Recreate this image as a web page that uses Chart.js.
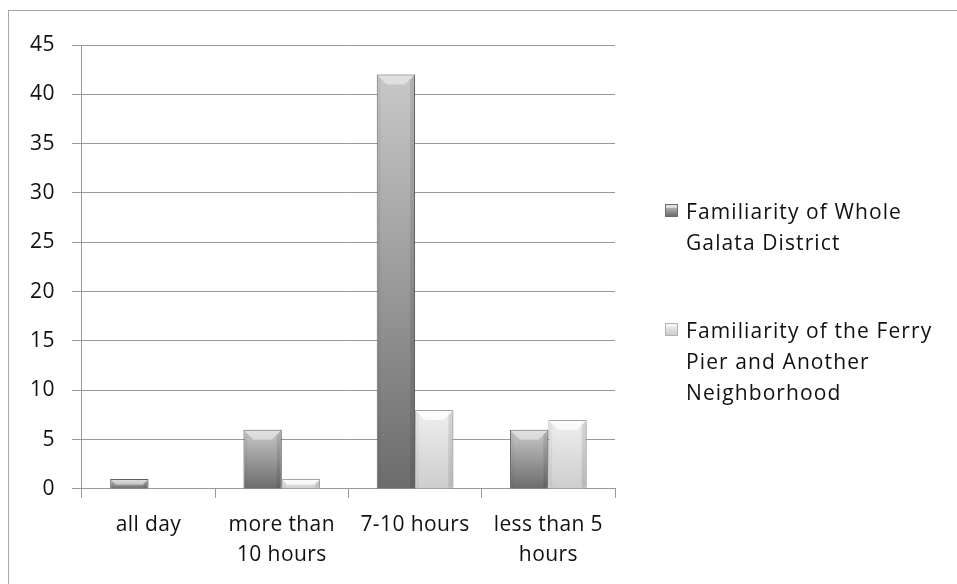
<!DOCTYPE html>
<html>
<head>
<meta charset="utf-8">
<script src="https://cdn.jsdelivr.net/npm/chart.js@4.4.1/dist/chart.umd.min.js"></script>
<style>
  html, body { margin: 0; padding: 0; background: #ffffff; }
  body { width: 957px; height: 584px; position: relative; overflow: hidden; font-family: "Open Sans", sans-serif; }
  #frame { position: absolute; left: 8px; top: 10px; width: 980px; height: 620px; border: 1px solid #a8a8a8; box-sizing: border-box; }
  #wrap { position: absolute; left: 0; top: 0; width: 957px; height: 584px; }
  #legend { position: absolute; left: 665px; top: 196px; color: #111111; font-size: 21px; letter-spacing: 1.1px; line-height: 31px; white-space: nowrap; }
  .item { position: relative; padding-left: 21px; }
  .item + .item { margin-top: 57px; }
  .swatch { position: absolute; left: 0; top: 8px; width: 13px; height: 13px; box-sizing: border-box; }
</style>
</head>
<body>
<div id="frame"></div>
<div id="wrap"><canvas id="chart" width="957" height="584"></canvas></div>
<div id="legend"></div>
<script>
// Hours of stay, counted per familiarity group
const categories = ["all day", ["more than", "10 hours"], "7-10 hours", ["less than 5", "hours"]];
const seriesNames = ["Familiarity of Whole Galata District", "Familiarity of the Ferry Pier and Another Neighborhood"];
const legendLines = [["Familiarity of Whole", "Galata District"], ["Familiarity of the Ferry", "Pier and Another", "Neighborhood"]];
const wholeDistrict = [1, 6, 42, 6];
const ferryPier = [0, 1, 8, 7];
const yTicks = [0, 5, 10, 15, 20, 25, 30, 35, 40, 45];

const shades = [
  { top: "#c8c8c8", bottom: "#6c6c6c", edge: "#6a6a6a" },
  { top: "#efefef", bottom: "#cdcdcd", edge: "#b3b3b3" }
];

// vertical gradient spanning each individual bar
function barFill(i) {
  return (ctx) => {
    const chart = ctx.chart;
    const ys = chart.scales.y;
    if (!ys || ctx.raw === undefined) return shades[i].bottom;
    const top = ys.getPixelForValue(ctx.raw);
    const bot = ys.getPixelForValue(0);
    if (!isFinite(top) || Math.abs(bot - top) < 1) return shades[i].bottom;
    const g = chart.ctx.createLinearGradient(0, top, 0, bot);
    g.addColorStop(0, shades[i].top);
    g.addColorStop(1, shades[i].bottom);
    return g;
  };
}

// slightly spaced canvas lettering for the axis labels
const spacing = {
  id: "spacing",
  beforeUpdate(chart) { chart.ctx.letterSpacing = "0.4px"; },
  beforeDraw(chart) { chart.ctx.letterSpacing = "0.4px"; }
};

// soft shadow under bars plus a bevelled top edge
const bevel = {
  id: "bevel",
  beforeDatasetsDraw(chart) {
    const c = chart.ctx;
    c.save();
    c.shadowColor = "rgba(0,0,0,0.22)";
    c.shadowBlur = 4;
    c.shadowOffsetX = 2;
    c.shadowOffsetY = 0;
  },
  afterDatasetsDraw(chart) {
    const c = chart.ctx;
    c.restore();
    c.save();
    chart.data.datasets.forEach((ds, di) => {
      chart.getDatasetMeta(di).data.forEach((bar) => {
        const p = bar.getProps(["x", "y", "width", "base"], true);
        const h = p.base - p.y;
        if (h < 2) return;
        const l = p.x - p.width / 2 + 1, r = p.x + p.width / 2 - 1, t = p.y + 1;
        const b = Math.min(9, h / 2);
        c.fillStyle = di === 0 ? "rgba(255,255,255,0.45)" : "rgba(255,255,255,0.75)";
        c.beginPath();
        c.moveTo(l, t); c.lineTo(r, t); c.lineTo(r - b, t + b); c.lineTo(l + b, t + b); c.closePath();
        c.fill();
        c.fillStyle = "rgba(0,0,0,0.10)";
        c.beginPath();
        c.moveTo(r, t); c.lineTo(r, p.base - 1); c.lineTo(r - 4, p.base - 1); c.lineTo(r - 4, t + 4); c.closePath();
        c.fill();
        c.fillStyle = "rgba(0,0,0,0.04)";
        c.beginPath();
        c.moveTo(l, t); c.lineTo(l + 3, t + 3); c.lineTo(l + 3, p.base - 1); c.lineTo(l, p.base - 1); c.closePath();
        c.fill();
      });
    });
    c.restore();
  }
};

const axisFont = { family: "Open Sans", size: 21, lineHeight: 1.43 };

new Chart(document.getElementById("chart"), {
  type: "bar",
  data: {
    labels: categories,
    datasets: [
      { label: seriesNames[0], data: wholeDistrict, backgroundColor: barFill(0), borderColor: shades[0].edge, borderWidth: 1 },
      { label: seriesNames[1], data: ferryPier, backgroundColor: barFill(1), borderColor: shades[1].edge, borderWidth: 1 }
    ]
  },
  options: {
    responsive: false,
    animation: false,
    devicePixelRatio: 1,
    layout: { padding: { left: 13, right: 342, top: 45, bottom: 2 } },
    datasets: { bar: { categoryPercentage: 0.575, barPercentage: 1 } },
    plugins: { legend: { display: false }, tooltip: { enabled: false } },
    scales: {
      x: {
        grid: { display: true, drawOnChartArea: false, color: "#999999", tickLength: 9, offset: true },
        border: { display: true, color: "#999999" },
        ticks: { color: "#111111", font: axisFont, padding: 12, autoSkip: false, maxRotation: 0 }
      },
      y: {
        min: 0, max: 45,
        afterBuildTicks(scale) { scale.ticks = yTicks.map(v => ({ value: v })); },
        grid: { color: "#999999", tickLength: 10 },
        border: { display: true, color: "#999999" },
        ticks: { color: "#111111", font: { family: "Open Sans", size: 21, lineHeight: 1.2 }, padding: 17 }
      }
    }
  },
  plugins: [spacing, bevel]
});

// legend beside the plot
const legend = document.getElementById("legend");
legendLines.forEach((lines, i) => {
  const item = document.createElement("div");
  item.className = "item";
  const sw = document.createElement("span");
  sw.className = "swatch";
  sw.style.background = "linear-gradient(" + shades[i].top + ", " + shades[i].bottom + ")";
  sw.style.border = "1px solid " + shades[i].edge;
  sw.style.boxShadow = "inset 0 3px 0 rgba(255,255,255,0.5)";
  item.appendChild(sw);
  lines.forEach((ln, k) => {
    if (k) item.appendChild(document.createElement("br"));
    item.appendChild(document.createTextNode(ln));
  });
  legend.appendChild(item);
});
</script>
</body>
</html>
